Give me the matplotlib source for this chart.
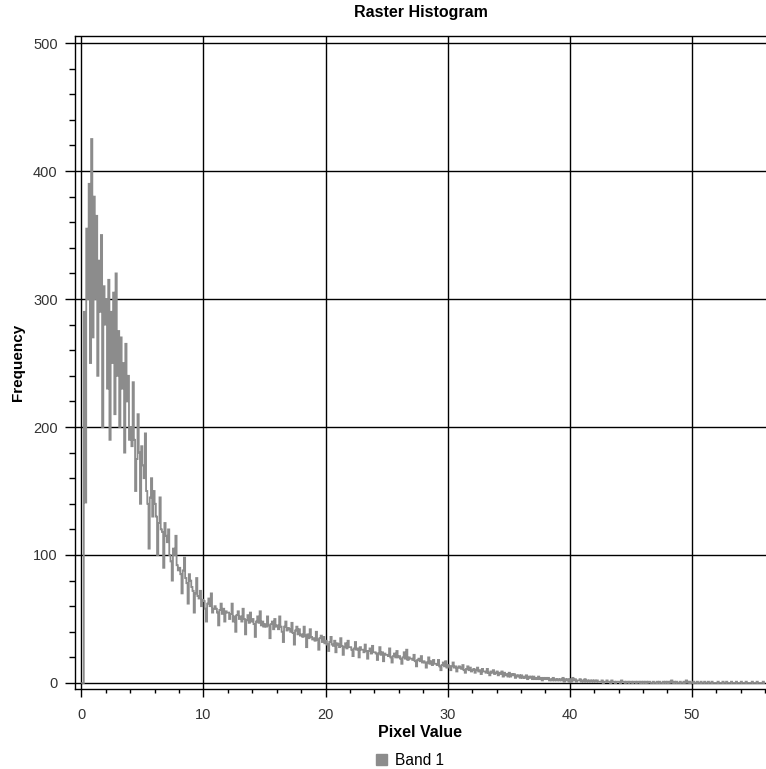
import numpy as np
import matplotlib.pyplot as plt
from matplotlib.patches import Patch
from matplotlib.ticker import MultipleLocator

plt.rcParams['font.family'] = ['Liberation Sans', 'DejaVu Sans']

# histogram of band 1, bins of 0.1 starting at 0 (one row = one unit)
bin_start = 0.0
bin_width = 0.1
band1_counts = [
    0, 0, 290, 141, 355, 300, 390, 250, 425, 270,
    380, 300, 365, 240, 330, 290, 350, 200, 310, 280,
    300, 230, 315, 190, 290, 250, 305, 210, 320, 240,
    275, 200, 270, 230, 250, 180, 265, 220, 240, 190,
    200, 185, 235, 190, 150, 175, 210, 180, 140, 185,
    170, 160, 195, 150, 140, 105, 145, 160, 130, 150,
    140, 130, 100, 125, 145, 120, 118, 90, 125, 115,
    110, 120, 100, 95, 80, 105, 100, 115, 92, 88,
    90, 85, 70, 88, 98, 82, 78, 62, 85, 80,
    75, 72, 55, 70, 82, 68, 66, 72, 60, 65,
    64, 58, 48, 62, 66, 60, 70, 55, 58, 60,
    58, 55, 45, 57, 62, 54, 58, 48, 56, 55,
    55, 50, 54, 62, 48, 52, 40, 53, 56, 50,
    52, 48, 58, 50, 38, 49, 53, 47, 55, 48,
    50, 46, 36, 48, 52, 47, 56, 45, 48, 44,
    46, 44, 52, 45, 35, 46, 48, 42, 50, 44,
    45, 42, 52, 44, 40, 32, 44, 48, 41, 43,
    42, 40, 47, 39, 30, 41, 44, 38, 42, 37,
    38, 36, 44, 37, 28, 38, 35, 42, 36, 34,
    35, 33, 40, 34, 26, 35, 37, 32, 36, 31,
    33, 30, 25, 32, 36, 30, 29, 33, 24, 31,
    30, 28, 35, 29, 22, 28, 31, 27, 33, 28,
    28, 26, 21, 27, 32, 26, 27, 20, 28, 26,
    26, 24, 30, 25, 19, 25, 27, 23, 29, 24,
    24, 23, 18, 23, 28, 22, 24, 17, 23, 22,
    22, 21, 27, 20, 16, 21, 23, 20, 25, 20,
    21, 19, 15, 20, 24, 19, 26, 18, 20, 19,
    19, 18, 22, 17, 13, 18, 19, 17, 21, 16,
    17, 16, 12, 16, 20, 15, 17, 14, 18, 15,
    15, 14, 18, 13, 10, 14, 16, 13, 17, 12,
    14, 13, 10, 13, 16, 12, 13, 9, 12, 13,
    12, 11, 14, 10, 8, 11, 13, 10, 12, 9,
    10, 11, 8, 10, 12, 9, 10, 7, 11, 9,
    9, 8, 11, 8, 6, 9, 8, 10, 7, 8,
    9, 6, 8, 7, 9, 5, 8, 6, 7, 5,
    8, 5, 7, 6, 7, 4, 6, 5, 6, 4,
    6, 4, 5, 4, 6, 3, 5, 4, 5, 3,
    5, 3, 4, 3, 5, 3, 4, 2, 4, 3,
    4, 3, 4, 2, 3, 2, 4, 2, 3, 2,
    3, 2, 3, 2, 4, 1, 3, 2, 3, 1,
    3, 1, 4, 2, 3, 1, 2, 2, 3, 1,
    2, 1, 3, 1, 2, 1, 2, 1, 2, 1,
    2, 1, 2, 1, 1, 1, 2, 0, 1, 1,
    2, 1, 1, 0, 2, 1, 1, 0, 1, 1,
    1, 0, 2, 1, 1, 0, 1, 1, 0, 1,
    1, 0, 1, 1, 0, 1, 1, 0, 1, 0,
    1, 0, 1, 0, 1, 1, 0, 0, 1, 0,
    0, 1, 0, 1, 0, 0, 1, 0, 1, 0,
    1, 0, 1, 2, 0, 1, 0, 1, 0, 0,
    1, 0, 0, 1, 0, 2, 1, 0, 1, 0,
    0, 1, 0, 0, 1, 0, 0, 1, 0, 0,
    1, 0, 0, 1, 0, 0, 1, 0, 0, 0,
    0, 1, 0, 0, 0, 1, 0, 0, 1, 0,
    0, 0, 1, 0, 0, 0, 1, 0, 0, 0,
    1, 0, 0, 0, 1, 0, 0, 0, 0, 1,
    0, 0, 0, 1, 0, 0, 0, 0, 1, 0,
]
band_name = "Band 1"
x_ticks = [0, 10, 20, 30, 40, 50]
y_ticks = [0, 100, 200, 300, 400, 500]

edges = bin_start + bin_width * np.arange(len(band1_counts) + 1)
line_color = "#8c8c8c"

fig = plt.figure(figsize=(7.66, 7.69), dpi=100)
ax = fig.add_axes([75 / 766, 1 - 689 / 769, 1 - 75 / 766, (689 - 36) / 769])

ax.stairs(band1_counts, edges, color=line_color, linewidth=1.3, zorder=3)

ax.set_xlim(-0.52, 56.07)
ax.set_ylim(-4.7, 505.5)
ax.set_xticks(x_ticks)
ax.set_yticks(y_ticks)
ax.xaxis.set_minor_locator(MultipleLocator(2))
ax.yaxis.set_minor_locator(MultipleLocator(20))
ax.grid(True, which="major", color="black", linewidth=1.0)
ax.tick_params(which="both", color="black", width=1, direction="out",
               labelsize=10.5, labelcolor="#333333")
ax.tick_params(axis="y", which="major", length=7.5, pad=5)
ax.tick_params(axis="y", which="minor", length=4)
ax.tick_params(axis="x", which="major", length=5.5, pad=8)
ax.tick_params(axis="x", which="minor", length=3)
ax.spines["right"].set_visible(False)
for s in ["left", "top", "bottom"]:
    ax.spines[s].set_linewidth(1.0)

ax.set_title("Raster Histogram", fontsize=11.5, fontweight="bold", pad=14)
ax.set_xlabel("Pixel Value", fontsize=11.5, fontweight="bold", labelpad=2)
ax.set_ylabel("Frequency", fontsize=11, fontweight="bold", labelpad=6)

fig.legend(handles=[Patch(color=line_color, label=band_name)], loc="lower center",
           bbox_to_anchor=(0.535, -0.017), frameon=False, fontsize=11.2,
           handlelength=0.7, handleheight=0.7, handletextpad=0.5)

fig.savefig("out.png", dpi=100)
